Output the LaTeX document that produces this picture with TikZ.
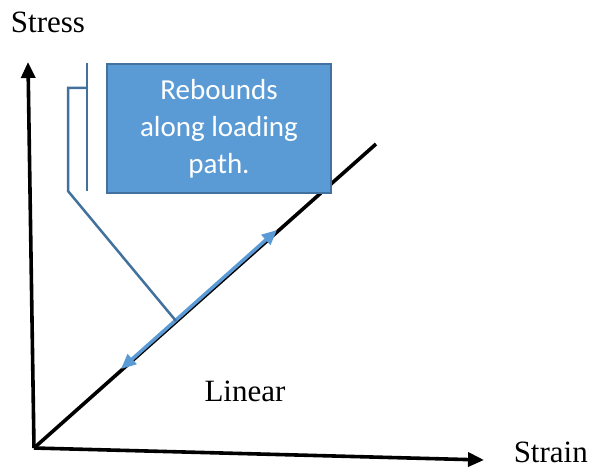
\documentclass[tikz,border=0pt]{standalone}
\usepackage{fontspec}
\setmainfont{Liberation Serif}
\newfontfamily\calib{Carlito}
\usetikzlibrary{arrows.meta}
\definecolor{boxfill}{HTML}{5B9BD5}
\definecolor{boxline}{HTML}{41719C}
\begin{document}
\begin{tikzpicture}[x=1pt,y=-1pt,
  axis/.style={line width=3.6pt,-{Triangle[length=16pt,width=14pt]}},
  lbl/.style={font=\fontsize{31}{36}\selectfont,inner sep=0pt},
  callbox/.style={fill=boxfill,draw=boxline,line width=2pt,text=white,align=center,
    font=\calib\fontsize{29}{37}\selectfont,minimum width=224pt,minimum height=129pt,inner sep=0pt},
  callline/.style={draw=boxline,line width=2.5pt},
  rebound/.style={draw=boxfill,line width=3.5pt,{Triangle[length=15pt,width=13pt]}-{Triangle[length=15pt,width=13pt]}}]
\useasboundingbox (0,0) rectangle (594,468);
\coordinate (O) at (34,448);
\coordinate (Ytop) at (28,62);
\coordinate (Xend) at (484,460);
\coordinate (Lend) at (376,144);
\draw[axis] (O) -- (Ytop);
\draw[axis] (O) -- (Xend);
\draw[line width=3.6pt] (O) -- (Lend);
\node[lbl,anchor=center] (stress) at (48,22) {Stress};
\node[lbl,anchor=east] (strain) at (588,452) {Strain};
\node[lbl,anchor=center] (linear) at (245,391) {Linear};
\node[callbox,anchor=north west] (box) at (106,63) {Rebounds\\along loading\\path.};
\coordinate (ra) at (121,369);
\coordinate (rb) at (277,230);
\draw[rebound] (ra) -- (rb);
\coordinate (v1) at (87,63);
\coordinate (v2) at (87,191);
\draw[callline] (v1) -- (v2);
\coordinate (b1) at (87,88);
\coordinate (b2) at (68,88);
\coordinate (b3) at (68,191);
\coordinate (tip) at (176,321);
\draw[callline,line join=miter] (b1) -- (b2) -- (b3) -- (tip);
\end{tikzpicture}
\end{document}
